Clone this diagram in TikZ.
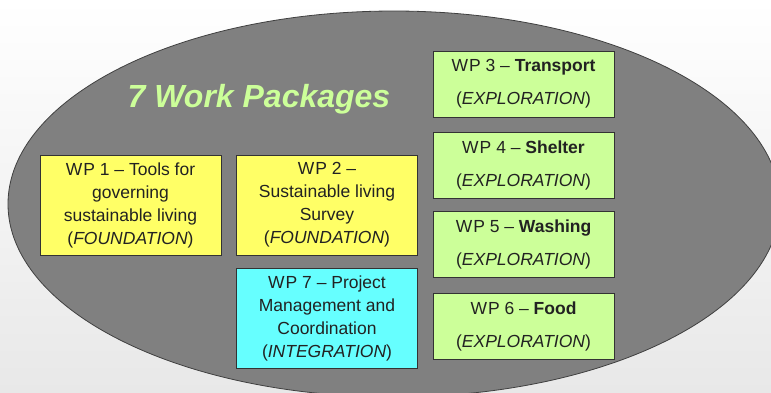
\documentclass[tikz,border=0pt]{standalone}
\usepackage{fontspec}
\setmainfont{Liberation Sans}
\usetikzlibrary{positioning}
\definecolor{found}{HTML}{FFFF66}
\definecolor{explo}{HTML}{CCFF99}
\definecolor{integ}{HTML}{66FFFF}
\definecolor{oval}{HTML}{808080}
\definecolor{ink}{HTML}{222222}
\tikzset{
  wpbox/.style={draw=black!80, line width=0.7pt, align=center, text=ink, inner sep=0pt,
    font=\fontsize{17.5}{23}\selectfont, minimum width=181pt, minimum height=100pt},
  fndbox/.style={wpbox, fill=found},
  intbox/.style={wpbox, fill=integ},
  expbox/.style={wpbox, fill=explo, minimum height=66pt, font=\fontsize{17.5}{33}\selectfont}}

\begin{document}
\begin{tikzpicture}[x=1pt, y=-1pt]
\useasboundingbox (0,0) rectangle (771,392);
\fill[top color=white, bottom color=black!9] (0,0) rectangle (771,392);
\draw[fill=oval, draw=black!75, line width=0.8pt] (394,204) ellipse [x radius=386, y radius=193];
\node[font=\fontsize{32}{32}\selectfont\bfseries\itshape, text=explo] (title) at (259,99) {7 Work Packages};
% foundation and integration column
\node[fndbox] (wp1) at (130.5,205) {W\kern1pt P 1 -- Tools for\\governing\\sustainable living\\(\textit{FOUNDATION})};
\node[fndbox] (wp2) at (327,205) {W\kern1pt P 2 --\\Sustainable living\\Survey\\(\textit{FOUNDATION})};
\node[intbox] (wp7) at (327,318) {W\kern1pt P 7 -- Project\\Management and\\Coordination\\(\textit{INTEGRATION})};
% exploration column
\node[expbox] (wp3) at (523.5,84) {W\kern1pt P 3 -- \textbf{Transport}\\(\textit{EXPLORATION})};
\node[expbox] (wp4) at (523.5,165) {W\kern1pt P 4 -- \textbf{Shelter}\\(\textit{EXPLORATION})};
\node[expbox] (wp5) at (523.5,244.5) {W\kern1pt P 5 -- \textbf{Washing}\\(\textit{EXPLORATION})};
\node[expbox] (wp6) at (523.5,326) {W\kern1pt P 6 -- \textbf{Food}\\(\textit{EXPLORATION})};
\end{tikzpicture}
\end{document}
